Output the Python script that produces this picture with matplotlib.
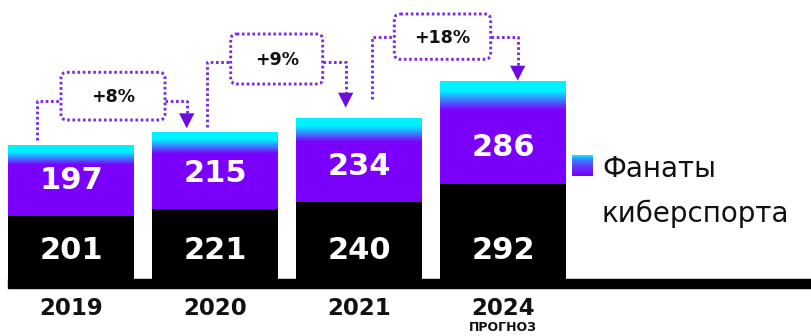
import numpy as np
import matplotlib.pyplot as plt
from matplotlib.colors import LinearSegmentedColormap
from matplotlib.patches import FancyBboxPatch, Polygon

years = ['2019', '2020', '2021', '2024']
gamers = [201, 221, 240, 292]
fans = [197, 215, 234, 286]
growth = ['+8%', '+9%', '+18%']

purple = '#7a00fb'
cyan = '#00f2ff'
dotc = '#7d2ae8'
arrowc = '#6c0ce0'
grad = LinearSegmentedColormap.from_list('g', [cyan, cyan, '#3d7cff', purple])

fig = plt.figure(figsize=(8.11, 3.36), dpi=100)
ax = fig.add_axes([0, 0, 1, 1])
x = np.arange(len(years))
w = 0.875

ax.bar(x, gamers, width=w, color='black')
ax.bar(x, fans, width=w, bottom=gamers, color=purple)
ramp = np.linspace(0, 1, 64).reshape(-1, 1)
for i in range(len(years)):
    top = gamers[i] + fans[i]
    ax.imshow(ramp, cmap=grad, aspect='auto', origin='upper', interpolation='bilinear',
              extent=[x[i] - w / 2, x[i] + w / 2, top - 0.28 * fans[i], top], zorder=3)
    ax.text(x[i], gamers[i] + 100, str(fans[i]), color='white', fontsize=22,
            fontweight='heavy', ha='center', va='center', zorder=4)
    ax.text(x[i], 106, str(gamers[i]), color='white', fontsize=22,
            fontweight='heavy', ha='center', va='center', zorder=4)
    ax.text(x[i], -58, years[i], color='#111111', fontsize=16.5,
            fontweight='heavy', ha='center', va='center')
ax.text(x[-1], -110, 'ПРОГНОЗ', color='#111111', fontsize=9,
        fontweight='heavy', ha='center', va='center')

# thick baseline
ax.axhspan(0, 25.2, xmin=8 / 811, xmax=1, color='black', zorder=2)

ax.set_xlim(-71 / 144, 740 / 144)
ax.set_ylim(-48 / 0.3575, 288 / 0.3575)
ax.axis('off')

# overlay in pixel coords for growth callouts and legend
ov = fig.add_axes([0, 0, 1, 1])
ov.set_xlim(0, 811)
ov.set_ylim(336, 0)
ov.axis('off')
ov.patch.set_alpha(0)

# left x, left bottom, line y, box l, box r, box top, box bottom, arrow x, arrow top
callouts = [
    (36.7, 140, 100.7, 61, 165, 72.3, 120, 186.7, 113.3),
    (206.7, 127.3, 62.3, 230.7, 322.7, 34, 84, 345.7, 92.7),
    (372.3, 99.3, 37.3, 394.3, 490.7, 14, 59.3, 517.7, 65.7),
]
dots = dict(color=dotc, lw=2.1, ls=(0, (0.9, 0.9)), dash_capstyle='butt')
for (lx, lb, ly, bl, br, bt, bb, axx, at), lab in zip(callouts, growth):
    ov.plot([lx, lx, bl], [lb, ly, ly], **dots)
    ov.plot([br, axx, axx], [ly, ly, at], **dots)
    ov.add_patch(FancyBboxPatch((bl, bt), br - bl, bb - bt,
                                boxstyle='round,pad=0,rounding_size=6',
                                fill=False, ec=dotc, lw=2.1, ls=(0, (0.9, 0.9))))
    ov.add_patch(Polygon([(axx - 7.6, at), (axx + 7.6, at), (axx, at + 15)],
                         closed=True, color=arrowc, lw=0))
    ov.text((bl + br) / 2, (bt + bb) / 2 + 1, lab, fontsize=12.5, fontweight='heavy',
            color='#111111', ha='center', va='center')

# legend
lg = fig.add_axes([572 / 811, 1 - 176 / 336, 21 / 811, 21 / 336])
lg.imshow(np.linspace(0, 1, 64).reshape(-1, 1) ** 0.3, cmap=grad, aspect='auto',
          interpolation='bilinear')
lg.axis('off')
ov.text(602, 177, 'Фанаты', fontsize=20, color='#111111', va='baseline', ha='left')
ov.text(602, 221.5, 'киберспорта', fontsize=20, color='#111111', va='baseline', ha='left')

fig.savefig('out.png', dpi=100)
